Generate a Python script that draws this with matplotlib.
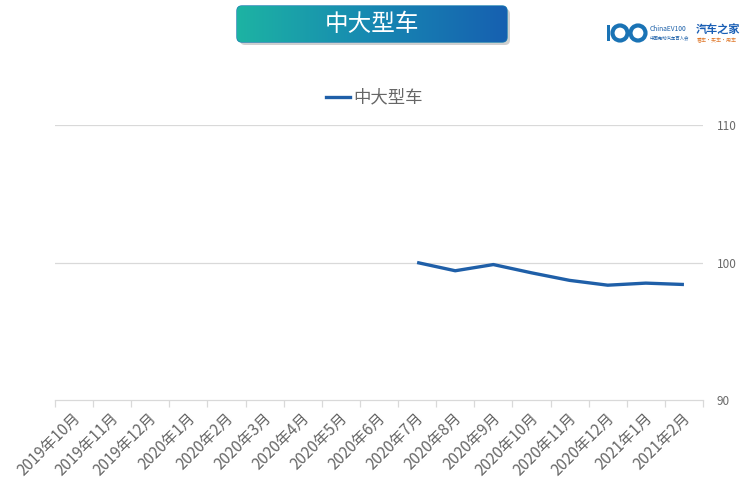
import matplotlib
matplotlib.use("Agg")
import matplotlib.pyplot as plt
import numpy as np
from matplotlib.patches import FancyBboxPatch, Circle, Rectangle
from matplotlib.colors import LinearSegmentedColormap

plt.rcParams['font.family'] = ['Noto Sans CJK SC', 'DejaVu Sans']

categories = ["2019年10月", "2019年11月", "2019年12月", "2020年1月", "2020年2月",
              "2020年3月", "2020年4月", "2020年5月", "2020年6月", "2020年7月",
              "2020年8月", "2020年9月", "2020年10月", "2020年11月", "2020年12月",
              "2021年1月", "2021年2月"]
series_name = "中大型车"
values = [None] * 9 + [100.0, 99.4, 99.85, 99.25, 98.7, 98.35, 98.5, 98.4]
y_ticks = [90, 100, 110]

W, H = 744, 499
fig = plt.figure(figsize=(W / 100, H / 100), dpi=100)

ax = fig.add_axes([55 / W, 1 - 400 / H, (703 - 55) / W, (400 - 125) / H])
x = np.arange(len(categories))
y = np.array([np.nan if v is None else v for v in values])
ax.plot(x, y, color="#1f5fa8", lw=2.4, solid_capstyle="butt")
ax.set_xlim(-0.5, len(categories) - 0.5)
ax.set_ylim(90, 110)
ax.set_yticks(y_ticks)
ax.yaxis.tick_right()
ax.tick_params(axis="y", length=0, pad=10, labelsize=8.5, labelcolor="#6a6a6a")
for v in y_ticks[1:]:
    ax.axhline(v, color="#d9d9d9", lw=0.9, zorder=0)
for s in ["top", "right", "left"]:
    ax.spines[s].set_visible(False)
ax.spines["bottom"].set_color("#d9d9d9")
ax.spines["bottom"].set_linewidth(0.9)
ax.set_xticks(np.arange(-0.5, len(categories) + 0.5, 1), minor=False)
ax.set_xticklabels([])
ax.tick_params(axis="x", length=5, color="#d9d9d9", width=0.9)
for i, c in enumerate(categories):
    ax.text(i - 0.05, -0.035, c, transform=ax.get_xaxis_transform(), rotation=45,
            ha="right", va="top", rotation_mode="anchor", fontsize=11,
            color="#666666", fontweight="light")

# legend
fig.add_artist(plt.Line2D([326 / W, 350 / W], [1 - 97 / H, 1 - 97 / H], color="#1f5fa8", lw=2.4))
fig.text(353 / W, 1 - 97 / H, series_name, fontsize=12.5, color="#666666", va="center",
         ha="left", fontweight="light")

# title box with gradient
tax = fig.add_axes([0, 0, 1, 1], zorder=-1)
tax.set_xlim(0, W)
tax.set_ylim(H, 0)
tax.axis("off")
shadow = FancyBboxPatch((240, 9), 270, 36, boxstyle="round,pad=0,rounding_size=5",
                        fc="#b0b0b0", ec="none", alpha=0.6)
tax.add_patch(shadow)
box = FancyBboxPatch((237, 6), 270, 36, boxstyle="round,pad=0,rounding_size=5",
                     fc="none", ec="#1a7fb0", lw=1)
tax.add_patch(box)
grad = np.linspace(0, 1, 256).reshape(1, -1)
cmap = LinearSegmentedColormap.from_list("g", ["#1db3a3", "#1788b2", "#1660b0"])
im = tax.imshow(grad, extent=[237, 507, 42, 6], cmap=cmap, aspect="auto", zorder=1)
im.set_clip_path(box)
tax.text(372, 24, "中大型车", color="white", fontsize=17, ha="center", va="center", zorder=3)

# logo approximation
tax.add_patch(Rectangle((607, 25), 3, 16, fc="#1a73b5", ec="none"))
for cx in [620, 638]:
    tax.add_patch(Circle((cx, 33), 7.5, fc="none", ec="#1a73b5", lw=3))
tax.text(650, 29, "ChinaEV100", fontsize=4.8, color="#1a5fa8", ha="left", va="center")
tax.text(650, 38, "中国电动汽车百人会", fontsize=3.2, color="#1a5fa8", ha="left", va="center")
tax.text(696, 30, "汽车之家", fontsize=8, color="#1a5fb5", ha="left", va="center", fontweight="bold")
tax.text(697, 41, "看车·买车·用车", fontsize=3.6, color="#e0782a", ha="left", va="center")

fig.savefig("out.png", dpi=100)
